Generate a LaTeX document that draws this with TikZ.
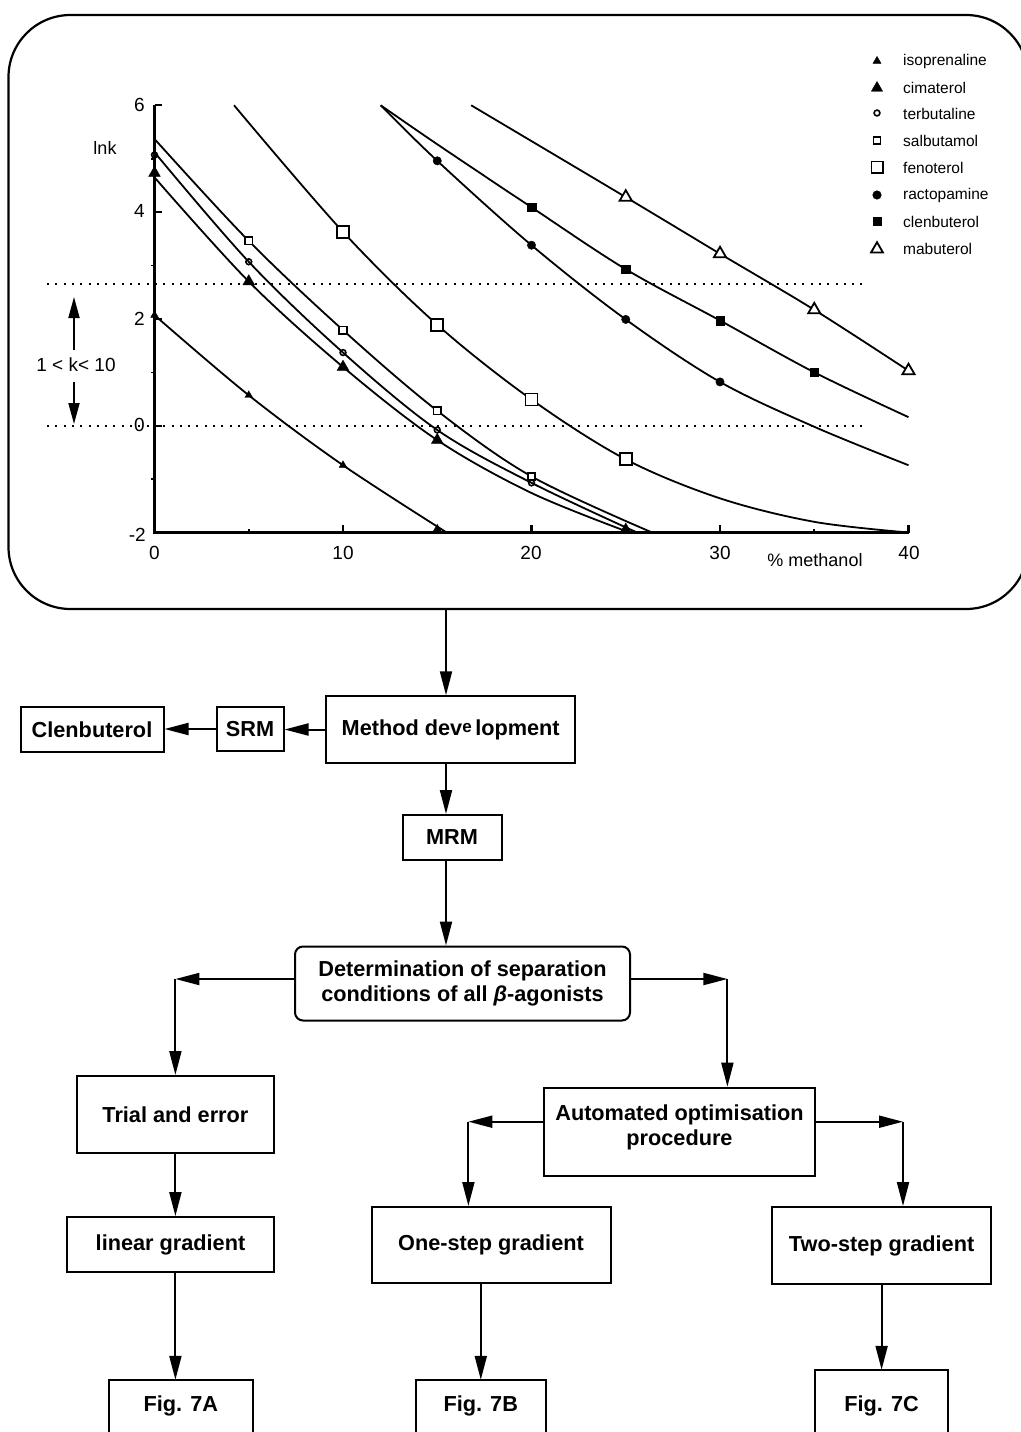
\documentclass[tikz,border=0pt]{standalone}
\usepackage{fontspec}
\setmainfont{Liberation Sans}
\usetikzlibrary{arrows.meta,plotmarks}
\begin{document}
\begin{tikzpicture}[x=1pt,y=-1pt,
  box/.style={draw, line width=2pt, rectangle, align=center, inner sep=0pt,
    font=\fontsize{21.7}{25}\selectfont\bfseries},
  openbox/.style={draw=none, rectangle, align=center, inner sep=0pt,
    font=\fontsize{21.7}{25}\selectfont\bfseries},
  boxline/.style={line width=2pt},
  arr/.style={line width=2pt, -{Triangle[length=24pt,width=12pt]}},
  karr/.style={line width=1.8pt, -{Triangle[length=21pt,width=11pt]}},
  curve/.style={line width=1.8pt},
  axis/.style={line width=2.2pt},
  dotline/.style={line width=2.2pt, dash pattern=on 2pt off 6.3pt},
  plottext/.style={font=\fontsize{19}{22}\selectfont, inner sep=0pt},
  legtext/.style={font=\fontsize{15.5}{18}\selectfont, inner sep=0pt, anchor=west},
]
\useasboundingbox (0,0) rectangle (1020,1432);

% ---------- frame ----------
\node[draw, line width=2.2pt, rounded corners=62pt, minimum width=1019.5pt,
      minimum height=594pt, inner sep=0pt] (frame) at (518.25,312) {};

% ---------- dotted limits & k-range ----------
\draw[dotline] (47,284) -- (863,284);
\draw[dotline] (47,426) -- (863,426);
\node[plottext] (krange) at (76,365) {1 < k< 10};
\coordinate (kupbase) at (74,350);
\coordinate (kuptip) at (74,297);
\coordinate (kdnbase) at (74,382);
\coordinate (kdntip) at (74,424);
\draw[karr] (kupbase) -- (kuptip);
\draw[karr] (kdnbase) -- (kdntip);

% ---------- axis labels ----------
\node[plottext, anchor=east] (y6) at (145,105) {6};
\node[plottext, anchor=east] (y4) at (145,211) {4};
\node[plottext, anchor=east] (y2) at (145,319) {2};
\node[plottext, anchor=east] (y0) at (145,425) {0};
\node[plottext, anchor=east] (ym2) at (146,535) {-2};
\node[plottext, font=\fontsize{18}{20}\selectfont] (lnk) at (105,148) {lnk};
\node[plottext] (x0) at (154.5,553) {0};
\node[plottext] (x10) at (343,553) {10};
\node[plottext] (x20) at (531,553) {20};
\node[plottext] (x30) at (720,553) {30};
\node[plottext] (x40) at (909,553) {40};
\node[plottext, font=\fontsize{18}{20}\selectfont] (xlab) at (815,560) {\% methanol};

% ---------- plot ----------
\begin{scope}[shift={(154.5pt,-425.7pt)}, x=18.85pt, y=53.4pt]
  % axes
  \draw[axis] (0,6) -- (0,-2) -- (40,-2);
  \foreach \v in {6,4,2,0,-2} \draw[axis] (0,\v) -- ++(7pt,0);
  \foreach \v in {5,3,1,-1} \draw[line width=1.6pt] (0,\v) -- ++(-4pt,0);
  \foreach \u in {10,20,30,40} \draw[axis] (\u,-2) -- ++(0,8pt);
  \foreach \u in {5,15,25,35} \draw[line width=1.6pt] (\u,-2) -- ++(0,4pt);

  % curves
  \draw[curve] plot[smooth, tension=0.55] coordinates {(0,2.07) (5,0.57) (10,-0.74) (15.5,-2)};
  \draw[curve] plot[smooth, tension=0.55] coordinates {(0,4.65) (5,2.70) (10,1.10) (15,-0.27) (20,-1.26) (25.2,-2)};
  \draw[curve] plot[smooth, tension=0.55] coordinates {(0,5.12) (5,3.07) (10,1.37) (15,-0.08) (20,-1.07) (25.6,-2)};
  \draw[curve] plot[smooth, tension=0.55] coordinates {(0,5.37) (5,3.46) (10,1.79) (15,0.28) (20,-0.95) (26.4,-2)};
  \draw[curve] plot[smooth, tension=0.55] coordinates {(4.22,6) (10,3.63) (15,1.89) (20,0.49) (25,-0.63) (30,-1.36) (35,-1.8) (40,-2)};
  \draw[curve] plot[smooth, tension=0.55] coordinates {(12,6) (15,4.96) (20,3.38) (25,1.99) (30,0.82) (35,-0.02) (40,-0.74)};
  \draw[curve] plot[smooth, tension=0.55] coordinates {(12,6) (15,5.27) (20,4.09) (25,2.93) (30,1.97) (35,1.0) (40,0.16)};
  \draw[curve] plot[smooth, tension=0.55] coordinates {(16.8,6) (25,4.28) (30,3.22) (35,2.17) (40,1.03)};

  % markers
  \path plot[only marks, mark=triangle*, mark size=4.4pt] coordinates {(0,2.07) (5,0.57) (10,-0.74) (15,-1.93)};
  \path plot[only marks, mark=triangle*, mark size=6.8pt] coordinates {(0,4.73) (5,2.70) (10,1.10) (15,-0.27) (25,-1.95)};
  \path plot[only marks, mark=o, mark size=2.9pt, mark options={fill=white, line width=1.6pt}] coordinates {(0,5.07) (5,3.07) (10,1.37) (15,-0.08) (20,-1.07)};
  \path plot[only marks, mark=square*, mark size=3.7pt, mark options={fill=white, line width=1.7pt}] coordinates {(5,3.46) (10,1.79) (15,0.28) (20,-0.95)};
  \path plot[only marks, mark=square*, mark size=6pt, mark options={fill=white, line width=1.8pt}] coordinates {(10,3.63) (15,1.89) (20,0.49) (25,-0.63)};
  \path plot[only marks, mark=*, mark size=4.2pt] coordinates {(15,4.96) (20,3.38) (25,1.99) (30,0.82)};
  \path plot[only marks, mark=square*, mark size=4.2pt] coordinates {(20,4.09) (25,2.93) (30,1.97) (35,1.0)};
  \path plot[only marks, mark=triangle*, mark size=7pt, mark options={fill=white, line width=1.8pt}] coordinates {(25,4.28) (30,3.22) (35,2.17) (40,1.03)};
\end{scope}

% ---------- legend ----------
\path plot[only marks, mark=triangle*, mark size=4.6pt] coordinates {(877,61)};
\path plot[only marks, mark=triangle*, mark size=6.5pt] coordinates {(877,88)};
\path plot[only marks, mark=o, mark size=2.9pt, mark options={line width=1.6pt}] coordinates {(877,113)};
\path plot[only marks, mark=square*, mark size=3.6pt, mark options={fill=white, line width=1.7pt}] coordinates {(877,140.5)};
\path plot[only marks, mark=square*, mark size=5.6pt, mark options={fill=white, line width=1.8pt}] coordinates {(877,167)};
\path plot[only marks, mark=*, mark size=4.3pt] coordinates {(877,195)};
\path plot[only marks, mark=square*, mark size=4.2pt] coordinates {(877,221)};
\path plot[only marks, mark=triangle*, mark size=6.8pt, mark options={fill=white, line width=1.8pt}] coordinates {(877,249)};
\node[legtext] (l1) at (903,61) {isoprenaline};
\node[legtext] (l2) at (903,88) {cimaterol};
\node[legtext] (l3) at (903,114) {terbutaline};
\node[legtext] (l4) at (903,141) {salbutamol};
\node[legtext] (l5) at (903,168) {fenoterol};
\node[legtext] (l6) at (903,195) {ractopamine};
\node[legtext] (l7) at (903,222) {clenbuterol};
\node[legtext] (l8) at (903,249) {mabuterol};

% ---------- flowchart ----------
\node[box, minimum width=143pt, minimum height=45pt] (clen) at (92,729.5) {Clenbuterol};
\node[box, minimum width=67pt, minimum height=44pt] (srm) at (250,729) {SRM};
\node[box, minimum width=249pt, minimum height=66.5pt] (meth) at (450.7,729.5)
  {Method dev\raisebox{3pt}{\fontsize{17}{17}\selectfont e}\,lopment};
\node[box, minimum width=99pt, minimum height=45pt] (mrm) at (452,837.5) {MRM};
\node[box, rounded corners=8pt, minimum width=335pt, minimum height=74pt] (det) at (462.5,983.5)
  {Determination of separation\\conditions of all \textit{β}-agonists};
\node[box, minimum width=197pt, minimum height=77pt] (trial) at (175.4,1114.5) {Trial and error};
\node[box, minimum width=271pt, minimum height=88pt] (auto) at (679.5,1131.7)
  {Automated optimisation\\procedure\rule[-13pt]{0pt}{13pt}};
\node[box, minimum width=207pt, minimum height=55pt] (lin) at (170.5,1244.6) {linear gradient};
\node[box, minimum width=239pt, minimum height=76pt] (one) at (491,1245) {One-step gradient};
\node[box, minimum width=218.6pt, minimum height=77pt] (two) at (881.6,1245.5) {Two-step gradient};
\node[openbox, minimum width=143pt, minimum height=52pt] (f7a) at (180.85,1406) {Fig. 7A};
\node[openbox, minimum width=129pt, minimum height=52pt] (f7b) at (480.8,1406) {Fig. 7B};
\node[openbox, minimum width=133pt, minimum height=52pt] (f7c) at (881.6,1406) {Fig. 7C};
\draw[boxline] (f7a.south west) -- (f7a.north west) -- (f7a.north east) -- (f7a.south east);
\draw[boxline] (f7b.south west) -- (f7b.north west) -- (f7b.north east) -- (f7b.south east);
\draw[boxline] (f7c.south west) -- ([yshift=10pt]f7c.north west) -- ([yshift=10pt]f7c.north east) -- (f7c.south east);

% connectors
\coordinate (a1) at (446,609);
\draw[arr] (a1) -- (a1 |- meth.north);
\draw[arr] (a1 |- meth.south) -- (a1 |- mrm.north);
\draw[arr] (a1 |- mrm.south) -- (a1 |- det.north);
\draw[arr] (meth.west) -- (meth.west -| srm.east);
\draw[arr] (srm.west) -- (srm.west -| clen.east);

\coordinate (c1) at (175.4,979);
\coordinate (c2) at (727.4,979);
\draw[arr] (det.west |- c1) -- (c1);
\draw[arr] (c1) -- (c1 |- trial.north);
\draw[arr] (det.east |- c2) -- (c2);
\draw[arr] (c2) -- (c2 |- auto.north);

\coordinate (c3) at (468.4,1121.7);
\coordinate (c4) at (903,1121.7);
\draw[arr] (auto.west |- c3) -- (c3);
\draw[arr] (c3) -- (c3 |- one.north);
\draw[arr] (auto.east |- c4) -- (c4);
\draw[arr] (c4) -- (c4 |- two.north);

\draw[arr] (trial.south) -- (trial.south |- lin.north);
\draw[arr] (trial.south |- lin.south) -- (trial.south |- f7a.north);
\draw[arr] (f7b.north |- one.south) -- (f7b.north);
\draw[arr] (two.south) -- ([yshift=10pt]f7c.north);
\end{tikzpicture}
\end{document}
